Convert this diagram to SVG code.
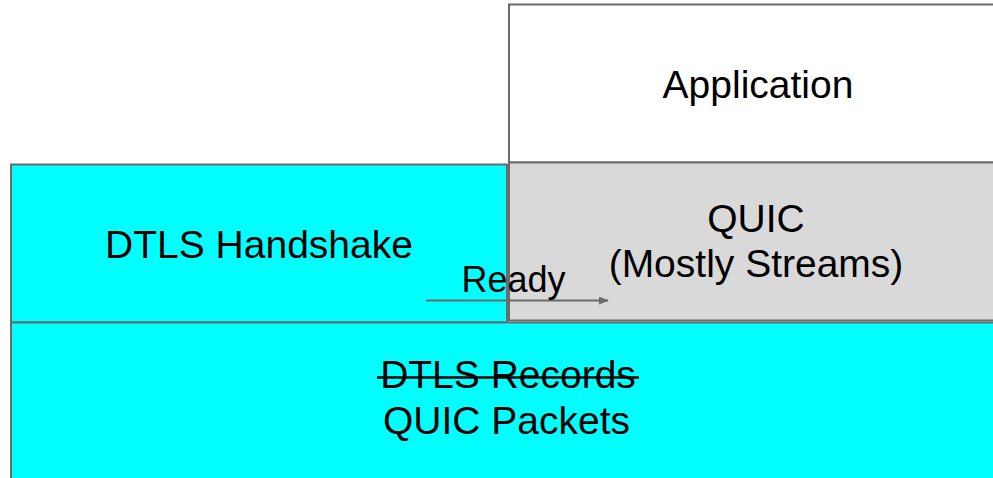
<svg xmlns="http://www.w3.org/2000/svg" width="993" height="478" viewBox="0 0 993 478">
<defs>
<style>
.box{stroke:#6b6b6b;stroke-width:2}
.cyan{fill:#00ffff}
.gray{fill:#d9d9d9}
.white{fill:#ffffff}
text{font-family:"Liberation Sans",Arial,sans-serif;font-size:39px;fill:#000;text-anchor:middle}
.conn{stroke:#6b6b6b;stroke-width:2;fill:none}
</style>
<marker id="arr" markerWidth="10" markerHeight="8" refX="9" refY="4" orient="auto" markerUnits="userSpaceOnUse">
<path d="M0,0 L10,4 L0,8 Z" fill="#6b6b6b"/>
</marker>
</defs>
<rect width="993" height="478" fill="#ffffff"/>
<g id="application">
<rect class="box white" x="509" y="4.5" width="500" height="158"/>
<text x="758" y="97.5">Application</text>
</g>
<g id="quic">
<rect class="box gray" x="509" y="162.5" width="500" height="158"/>
<text x="756" y="231.5">QUIC</text>
<text x="756" y="277">(Mostly Streams)</text>
</g>
<g id="dtls-handshake">
<rect class="box cyan" x="11" y="164.5" width="496" height="158"/>
<text x="259" y="257.5">DTLS Handshake</text>
</g>
<g id="records">
<rect class="box cyan" x="11" y="322.5" width="996" height="170"/>
<text x="508" y="388">DTLS Records</text>
<line x1="377" y1="377.5" x2="639" y2="377.5" stroke="#000" stroke-width="2.5"/>
<text x="506.5" y="434">QUIC Packets</text>
</g>
<g id="connectors">
<line class="conn" x1="426" y1="300.5" x2="608" y2="300.5" marker-end="url(#arr)"/>
<text x="513.5" y="291.5" style="font-size:36px">Ready</text>
</g>
</svg>
